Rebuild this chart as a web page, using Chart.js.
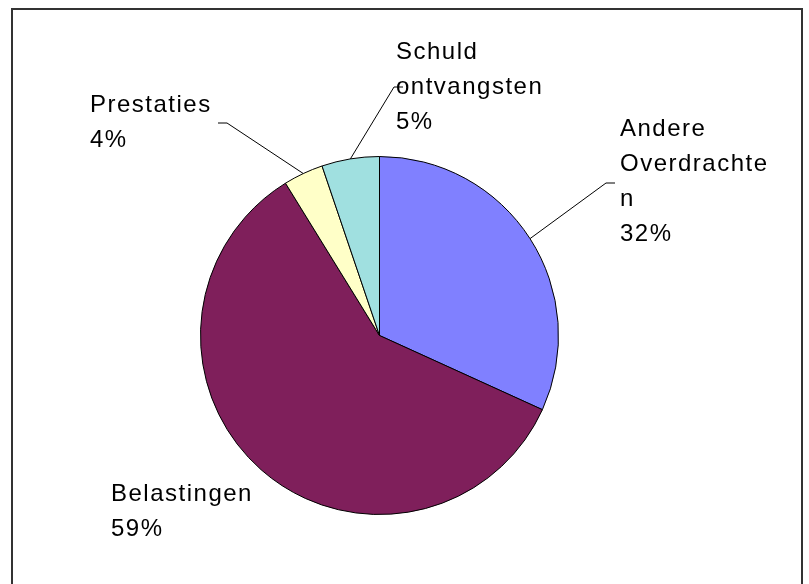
<!DOCTYPE html>
<html>
<head>
<meta charset="utf-8">
<script src="https://cdn.jsdelivr.net/npm/chart.js@4"></script>
<style>
    html, body { margin: 0; padding: 0; background: #fff; overflow: hidden; }
    #wrap { position: relative; width: 809px; height: 584px; }
    #frame { position: absolute; left: 11px; top: 8px; width: 788px; height: 620px; border: 2px solid #333; }
    canvas { position: absolute; left: 0; top: 0; }
</style>
</head>
<body>
<div id="wrap">
    <div id="frame"></div>
    <canvas id="pie" width="809" height="584"></canvas>
</div>
<script>
// Data
const categories = ['Andere Overdrachten', 'Belastingen', 'Prestaties', 'Schuld ontvangsten'];
const labelLines = [['Andere', 'Overdrachte', 'n'], ['Belastingen'], ['Prestaties'], ['Schuld', 'ontvangsten']];
const shares = [31.8, 59.4, 3.6, 5.2];
const sliceColors = ['#8080FF', '#7F1F5B', '#FFFFC8', '#A0E0E0'];

// Label placement: left x, first baseline, leader anchor (null = no leader)
const labelPos = [
    { x: 620, y: 136, leader: [606, 183] },
    { x: 111, y: 501, leader: null },
    { x: 90, y: 112, leader: [227, 123] },
    { x: 396, y: 59, leader: [394, 87] }
];

const total = shares.reduce((a, b) => a + b, 0);

// Draws the data labels and leader lines
const pieLabels = {
    id: 'pieLabels',
    afterDatasetsDraw(chart) {
        const ctx = chart.ctx;
        const arcs = chart.getDatasetMeta(0).data;
        ctx.save();
        ctx.font = '24px "Liberation Sans", Arial, sans-serif';
        ctx.letterSpacing = '1.5px';
        ctx.fillStyle = '#000';
        ctx.textBaseline = 'alphabetic';
        arcs.forEach((arc, i) => {
            const pos = labelPos[i];
            const lines = labelLines[i].concat([Math.round(shares[i] / total * 100) + '%']);
            lines.forEach((line, j) => ctx.fillText(line, pos.x, pos.y + j * 35));

            if (pos.leader) {
                const mid = (arc.startAngle + arc.endAngle) / 2;
                const ex = arc.x + Math.cos(mid) * arc.outerRadius;
                const ey = arc.y + Math.sin(mid) * arc.outerRadius;
                const dir = pos.leader[0] > arc.x ? 1 : -1;
                ctx.beginPath();
                ctx.strokeStyle = '#000';
                ctx.lineWidth = 1;
                ctx.moveTo(ex, ey);
                ctx.lineTo(pos.leader[0], pos.leader[1]);
                ctx.lineTo(pos.leader[0] + dir * 9, pos.leader[1]);
                ctx.stroke();
            }
        });
        ctx.restore();
    }
};

new Chart(document.getElementById('pie'), {
    type: 'pie',
    data: {
        labels: categories,
        datasets: [{
            data: shares,
            backgroundColor: sliceColors,
            borderColor: '#000',
            borderWidth: 1,
            hoverOffset: 0
        }]
    },
    options: {
        responsive: false,
        animation: false,
        layout: { padding: { left: 200, right: 250, top: 155, bottom: 68 } },
        plugins: {
            legend: { display: false },
            tooltip: { enabled: false }
        }
    },
    plugins: [pieLabels]
});
</script>
</body>
</html>
